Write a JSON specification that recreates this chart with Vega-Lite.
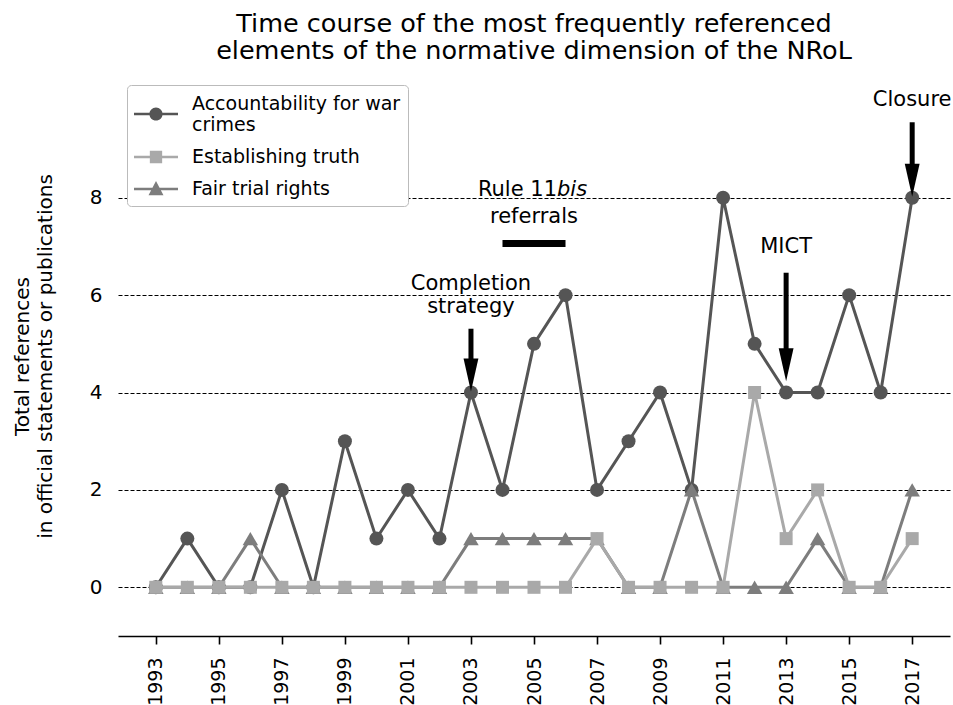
{
  "$schema": "https://vega.github.io/schema/vega-lite/v6.json",
  "width": 832,
  "height": 560,
  "autosize": "none",
  "padding": {"left": 118, "top": 76, "right": 3, "bottom": 69},
  "background": "white",
  "config": {
    "font": "DejaVu Sans",
    "view": {"stroke": null}
  },
  "title": {
    "text": ["Time course of the most frequently referenced", "elements of the normative dimension of the NRoL"],
    "fontSize": 25.5,
    "fontWeight": "normal",
    "lineHeight": 27,
    "anchor": "middle",
    "color": "black",
    "offset": 12
  },
  "datasets": {
    "series": [
      {"year": 1993, "series": "Accountability for war crimes", "value": 0},
      {"year": 1994, "series": "Accountability for war crimes", "value": 1},
      {"year": 1995, "series": "Accountability for war crimes", "value": 0},
      {"year": 1996, "series": "Accountability for war crimes", "value": 0},
      {"year": 1997, "series": "Accountability for war crimes", "value": 2},
      {"year": 1998, "series": "Accountability for war crimes", "value": 0},
      {"year": 1999, "series": "Accountability for war crimes", "value": 3},
      {"year": 2000, "series": "Accountability for war crimes", "value": 1},
      {"year": 2001, "series": "Accountability for war crimes", "value": 2},
      {"year": 2002, "series": "Accountability for war crimes", "value": 1},
      {"year": 2003, "series": "Accountability for war crimes", "value": 4},
      {"year": 2004, "series": "Accountability for war crimes", "value": 2},
      {"year": 2005, "series": "Accountability for war crimes", "value": 5},
      {"year": 2006, "series": "Accountability for war crimes", "value": 6},
      {"year": 2007, "series": "Accountability for war crimes", "value": 2},
      {"year": 2008, "series": "Accountability for war crimes", "value": 3},
      {"year": 2009, "series": "Accountability for war crimes", "value": 4},
      {"year": 2010, "series": "Accountability for war crimes", "value": 2},
      {"year": 2011, "series": "Accountability for war crimes", "value": 8},
      {"year": 2012, "series": "Accountability for war crimes", "value": 5},
      {"year": 2013, "series": "Accountability for war crimes", "value": 4},
      {"year": 2014, "series": "Accountability for war crimes", "value": 4},
      {"year": 2015, "series": "Accountability for war crimes", "value": 6},
      {"year": 2016, "series": "Accountability for war crimes", "value": 4},
      {"year": 2017, "series": "Accountability for war crimes", "value": 8},
      {"year": 1993, "series": "Fair trial rights", "value": 0},
      {"year": 1994, "series": "Fair trial rights", "value": 0},
      {"year": 1995, "series": "Fair trial rights", "value": 0},
      {"year": 1996, "series": "Fair trial rights", "value": 1},
      {"year": 1997, "series": "Fair trial rights", "value": 0},
      {"year": 1998, "series": "Fair trial rights", "value": 0},
      {"year": 1999, "series": "Fair trial rights", "value": 0},
      {"year": 2000, "series": "Fair trial rights", "value": 0},
      {"year": 2001, "series": "Fair trial rights", "value": 0},
      {"year": 2002, "series": "Fair trial rights", "value": 0},
      {"year": 2003, "series": "Fair trial rights", "value": 1},
      {"year": 2004, "series": "Fair trial rights", "value": 1},
      {"year": 2005, "series": "Fair trial rights", "value": 1},
      {"year": 2006, "series": "Fair trial rights", "value": 1},
      {"year": 2007, "series": "Fair trial rights", "value": 1},
      {"year": 2008, "series": "Fair trial rights", "value": 0},
      {"year": 2009, "series": "Fair trial rights", "value": 0},
      {"year": 2010, "series": "Fair trial rights", "value": 2},
      {"year": 2011, "series": "Fair trial rights", "value": 0},
      {"year": 2012, "series": "Fair trial rights", "value": 0},
      {"year": 2013, "series": "Fair trial rights", "value": 0},
      {"year": 2014, "series": "Fair trial rights", "value": 1},
      {"year": 2015, "series": "Fair trial rights", "value": 0},
      {"year": 2016, "series": "Fair trial rights", "value": 0},
      {"year": 2017, "series": "Fair trial rights", "value": 2},
      {"year": 1993, "series": "Establishing truth", "value": 0},
      {"year": 1994, "series": "Establishing truth", "value": 0},
      {"year": 1995, "series": "Establishing truth", "value": 0},
      {"year": 1996, "series": "Establishing truth", "value": 0},
      {"year": 1997, "series": "Establishing truth", "value": 0},
      {"year": 1998, "series": "Establishing truth", "value": 0},
      {"year": 1999, "series": "Establishing truth", "value": 0},
      {"year": 2000, "series": "Establishing truth", "value": 0},
      {"year": 2001, "series": "Establishing truth", "value": 0},
      {"year": 2002, "series": "Establishing truth", "value": 0},
      {"year": 2003, "series": "Establishing truth", "value": 0},
      {"year": 2004, "series": "Establishing truth", "value": 0},
      {"year": 2005, "series": "Establishing truth", "value": 0},
      {"year": 2006, "series": "Establishing truth", "value": 0},
      {"year": 2007, "series": "Establishing truth", "value": 1},
      {"year": 2008, "series": "Establishing truth", "value": 0},
      {"year": 2009, "series": "Establishing truth", "value": 0},
      {"year": 2010, "series": "Establishing truth", "value": 0},
      {"year": 2011, "series": "Establishing truth", "value": 0},
      {"year": 2012, "series": "Establishing truth", "value": 4},
      {"year": 2013, "series": "Establishing truth", "value": 1},
      {"year": 2014, "series": "Establishing truth", "value": 2},
      {"year": 2015, "series": "Establishing truth", "value": 0},
      {"year": 2016, "series": "Establishing truth", "value": 0},
      {"year": 2017, "series": "Establishing truth", "value": 1}
    ],
    "arrows": [
      {"year": 2003, "top": 5.31, "base": 4.62, "tip": 4.02},
      {"year": 2013, "top": 6.46, "base": 4.83, "tip": 4.23},
      {"year": 2017, "top": 9.55, "base": 8.62, "tip": 8.02}
    ],
    "notes": [
      {"year": 2003, "y": 6.11, "text": "Completion"},
      {"year": 2003, "y": 5.63, "text": "strategy"},
      {"year": 2013, "y": 6.87, "text": "MICT"},
      {"year": 2017, "y": 9.89, "text": "Closure"},
      {"year": 2005, "y": 7.49, "text": "referrals"}
    ],
    "rule11a": [{"year": 2005.73, "y": 8.03, "text": "Rule 11"}],
    "rule11b": [{"year": 2005.73, "y": 8.03, "text": "bis"}],
    "bar": [{"year": 2004, "year2": 2006, "y": 7.06}]
  },
  "layer": [
    {
      "data": {"name": "series"},
      "transform": [{"filter": "datum.series == 'Accountability for war crimes'"}],
      "mark": {"type": "line", "strokeWidth": 3, "color": "#555555"},
      "encoding": {
        "x": {"field": "year", "type": "quantitative", "scale": {"domain": [1991.8, 2018.2], "nice": false, "zero": false},
          "axis": {"values": [1993, 1995, 1997, 1999, 2001, 2003, 2005, 2007, 2009, 2011, 2013, 2015, 2017], "format": "d", "title": null, "grid": false, "labelAngle": -90, "labelFontSize": 19, "labelColor": "black", "labelPadding": 13, "domainColor": "black", "domainWidth": 1.6, "tickColor": "black", "tickWidth": 1.6, "tickSize": 8}},
        "y": {"field": "value", "type": "quantitative", "scale": {"domain": [-1, 10.5], "nice": false, "zero": false},
          "axis": {"values": [0, 2, 4, 6, 8], "title": ["Total references", "in official statements or publications"], "titleColor": "black", "titleFontSize": 20, "titleFontWeight": "normal", "titlePadding": 34, "titleLineHeight": 23, "labelFontSize": 20, "labelColor": "black", "labelPadding": 16, "domain": false, "ticks": false, "grid": true, "gridColor": "black", "gridDash": [4, 2], "gridWidth": 1}}
      }
    },
    {
      "data": {"name": "series"},
      "transform": [{"filter": "datum.series == 'Accountability for war crimes'"}],
      "mark": {"type": "point", "shape": "circle", "filled": true, "opacity": 1, "size": 196, "color": "#555555"},
      "encoding": {
        "x": {"field": "year", "type": "quantitative"},
        "y": {"field": "value", "type": "quantitative"}
      }
    },
    {
      "data": {"name": "series"},
      "transform": [{"filter": "datum.series == 'Fair trial rights'"}],
      "mark": {"type": "line", "strokeWidth": 3, "color": "#7d7d7d"},
      "encoding": {
        "x": {"field": "year", "type": "quantitative"},
        "y": {"field": "value", "type": "quantitative"}
      }
    },
    {
      "data": {"name": "series"},
      "transform": [{"filter": "datum.series == 'Fair trial rights'"}],
      "mark": {"type": "point", "shape": "triangle-up", "filled": true, "opacity": 1, "size": 240, "color": "#7d7d7d"},
      "encoding": {
        "x": {"field": "year", "type": "quantitative"},
        "y": {"field": "value", "type": "quantitative"}
      }
    },
    {
      "data": {"name": "series"},
      "transform": [{"filter": "datum.series == 'Establishing truth'"}],
      "mark": {"type": "line", "strokeWidth": 3, "color": "#a9a9a9"},
      "encoding": {
        "x": {"field": "year", "type": "quantitative"},
        "y": {"field": "value", "type": "quantitative"}
      }
    },
    {
      "data": {"name": "series"},
      "transform": [{"filter": "datum.series == 'Establishing truth'"}],
      "mark": {"type": "point", "shape": "square", "filled": true, "opacity": 1, "size": 169, "color": "#a9a9a9"},
      "encoding": {
        "x": {"field": "year", "type": "quantitative"},
        "y": {"field": "value", "type": "quantitative"}
      }
    },
    {
      "data": {"name": "series"},
      "transform": [{"filter": "false"}],
      "mark": {"type": "point", "filled": true, "opacity": 1, "size": 1936},
      "encoding": {
        "x": {"field": "year", "type": "quantitative"},
        "y": {"field": "value", "type": "quantitative"},
        "color": {"field": "series", "type": "nominal",
          "scale": {"domain": ["Accountability for war crimes", "Establishing truth", "Fair trial rights"], "range": ["#555555", "#a9a9a9", "#7d7d7d"]},
          "legend": {"title": null, "orient": "top-left", "offset": 9, "labelFontSize": 19, "labelColor": "black", "labelLimit": 400, "labelOffset": 14, "symbolSize": 1936, "symbolStrokeWidth": 0, "symbolOpacity": 1, "padding": 7, "rowPadding": -10, "fillColor": "white", "strokeColor": "#bbbbbb", "cornerRadius": 4,
            "labelExpr": "datum.label == 'Accountability for war crimes' ? ['Accountability for war', 'crimes'] : datum.label",
            "encode": {"labels": {"update": {"dy": {"signal": "datum.value == 'Accountability for war crimes' ? -10 : 0"}}}}}},
        "shape": {"field": "series", "type": "nominal",
          "scale": {"domain": ["Accountability for war crimes", "Establishing truth", "Fair trial rights"],
            "range": ["M-1,-0.06H1V0.06H-1Z M-0.3,0A0.3,0.3 0 1,1 0.3,0A0.3,0.3 0 1,1 -0.3,0Z", "M-1,-0.06H1V0.06H-1Z M-0.28,-0.28H0.28V0.28H-0.28Z", "M-1,-0.06H1V0.06H-1Z M0,-0.36L0.34,0.28H-0.34Z"]}}
      }
    },
    {
      "data": {"name": "bar"},
      "mark": {"type": "rule", "strokeWidth": 7, "color": "black", "strokeCap": "butt"},
      "encoding": {
        "x": {"field": "year", "type": "quantitative"},
        "x2": {"field": "year2"},
        "y": {"field": "y", "type": "quantitative"}
      }
    },
    {
      "data": {"name": "arrows"},
      "mark": {"type": "rule", "strokeWidth": 5, "color": "black", "strokeCap": "butt"},
      "encoding": {
        "x": {"field": "year", "type": "quantitative"},
        "y": {"field": "top", "type": "quantitative"},
        "y2": {"field": "base"}
      }
    },
    {
      "data": {"name": "arrows"},
      "mark": {"type": "point", "shape": "M-0.45,-2L0.45,-2L0,0Z", "filled": true, "color": "black", "opacity": 1, "size": 1089},
      "encoding": {
        "x": {"field": "year", "type": "quantitative"},
        "y": {"field": "tip", "type": "quantitative"}
      }
    },
    {
      "data": {"name": "notes"},
      "mark": {"type": "text", "fontSize": 21, "color": "black", "align": "center", "baseline": "alphabetic"},
      "encoding": {
        "x": {"field": "year", "type": "quantitative"},
        "y": {"field": "y", "type": "quantitative"},
        "text": {"field": "text"}
      }
    },
    {
      "data": {"name": "rule11a"},
      "mark": {"type": "text", "fontSize": 21, "color": "black", "align": "right", "baseline": "alphabetic"},
      "encoding": {
        "x": {"field": "year", "type": "quantitative"},
        "y": {"field": "y", "type": "quantitative"},
        "text": {"field": "text"}
      }
    },
    {
      "data": {"name": "rule11b"},
      "mark": {"type": "text", "fontSize": 21, "color": "black", "align": "left", "baseline": "alphabetic", "fontStyle": "italic"},
      "encoding": {
        "x": {"field": "year", "type": "quantitative"},
        "y": {"field": "y", "type": "quantitative"},
        "text": {"field": "text"}
      }
    }
  ]
}
